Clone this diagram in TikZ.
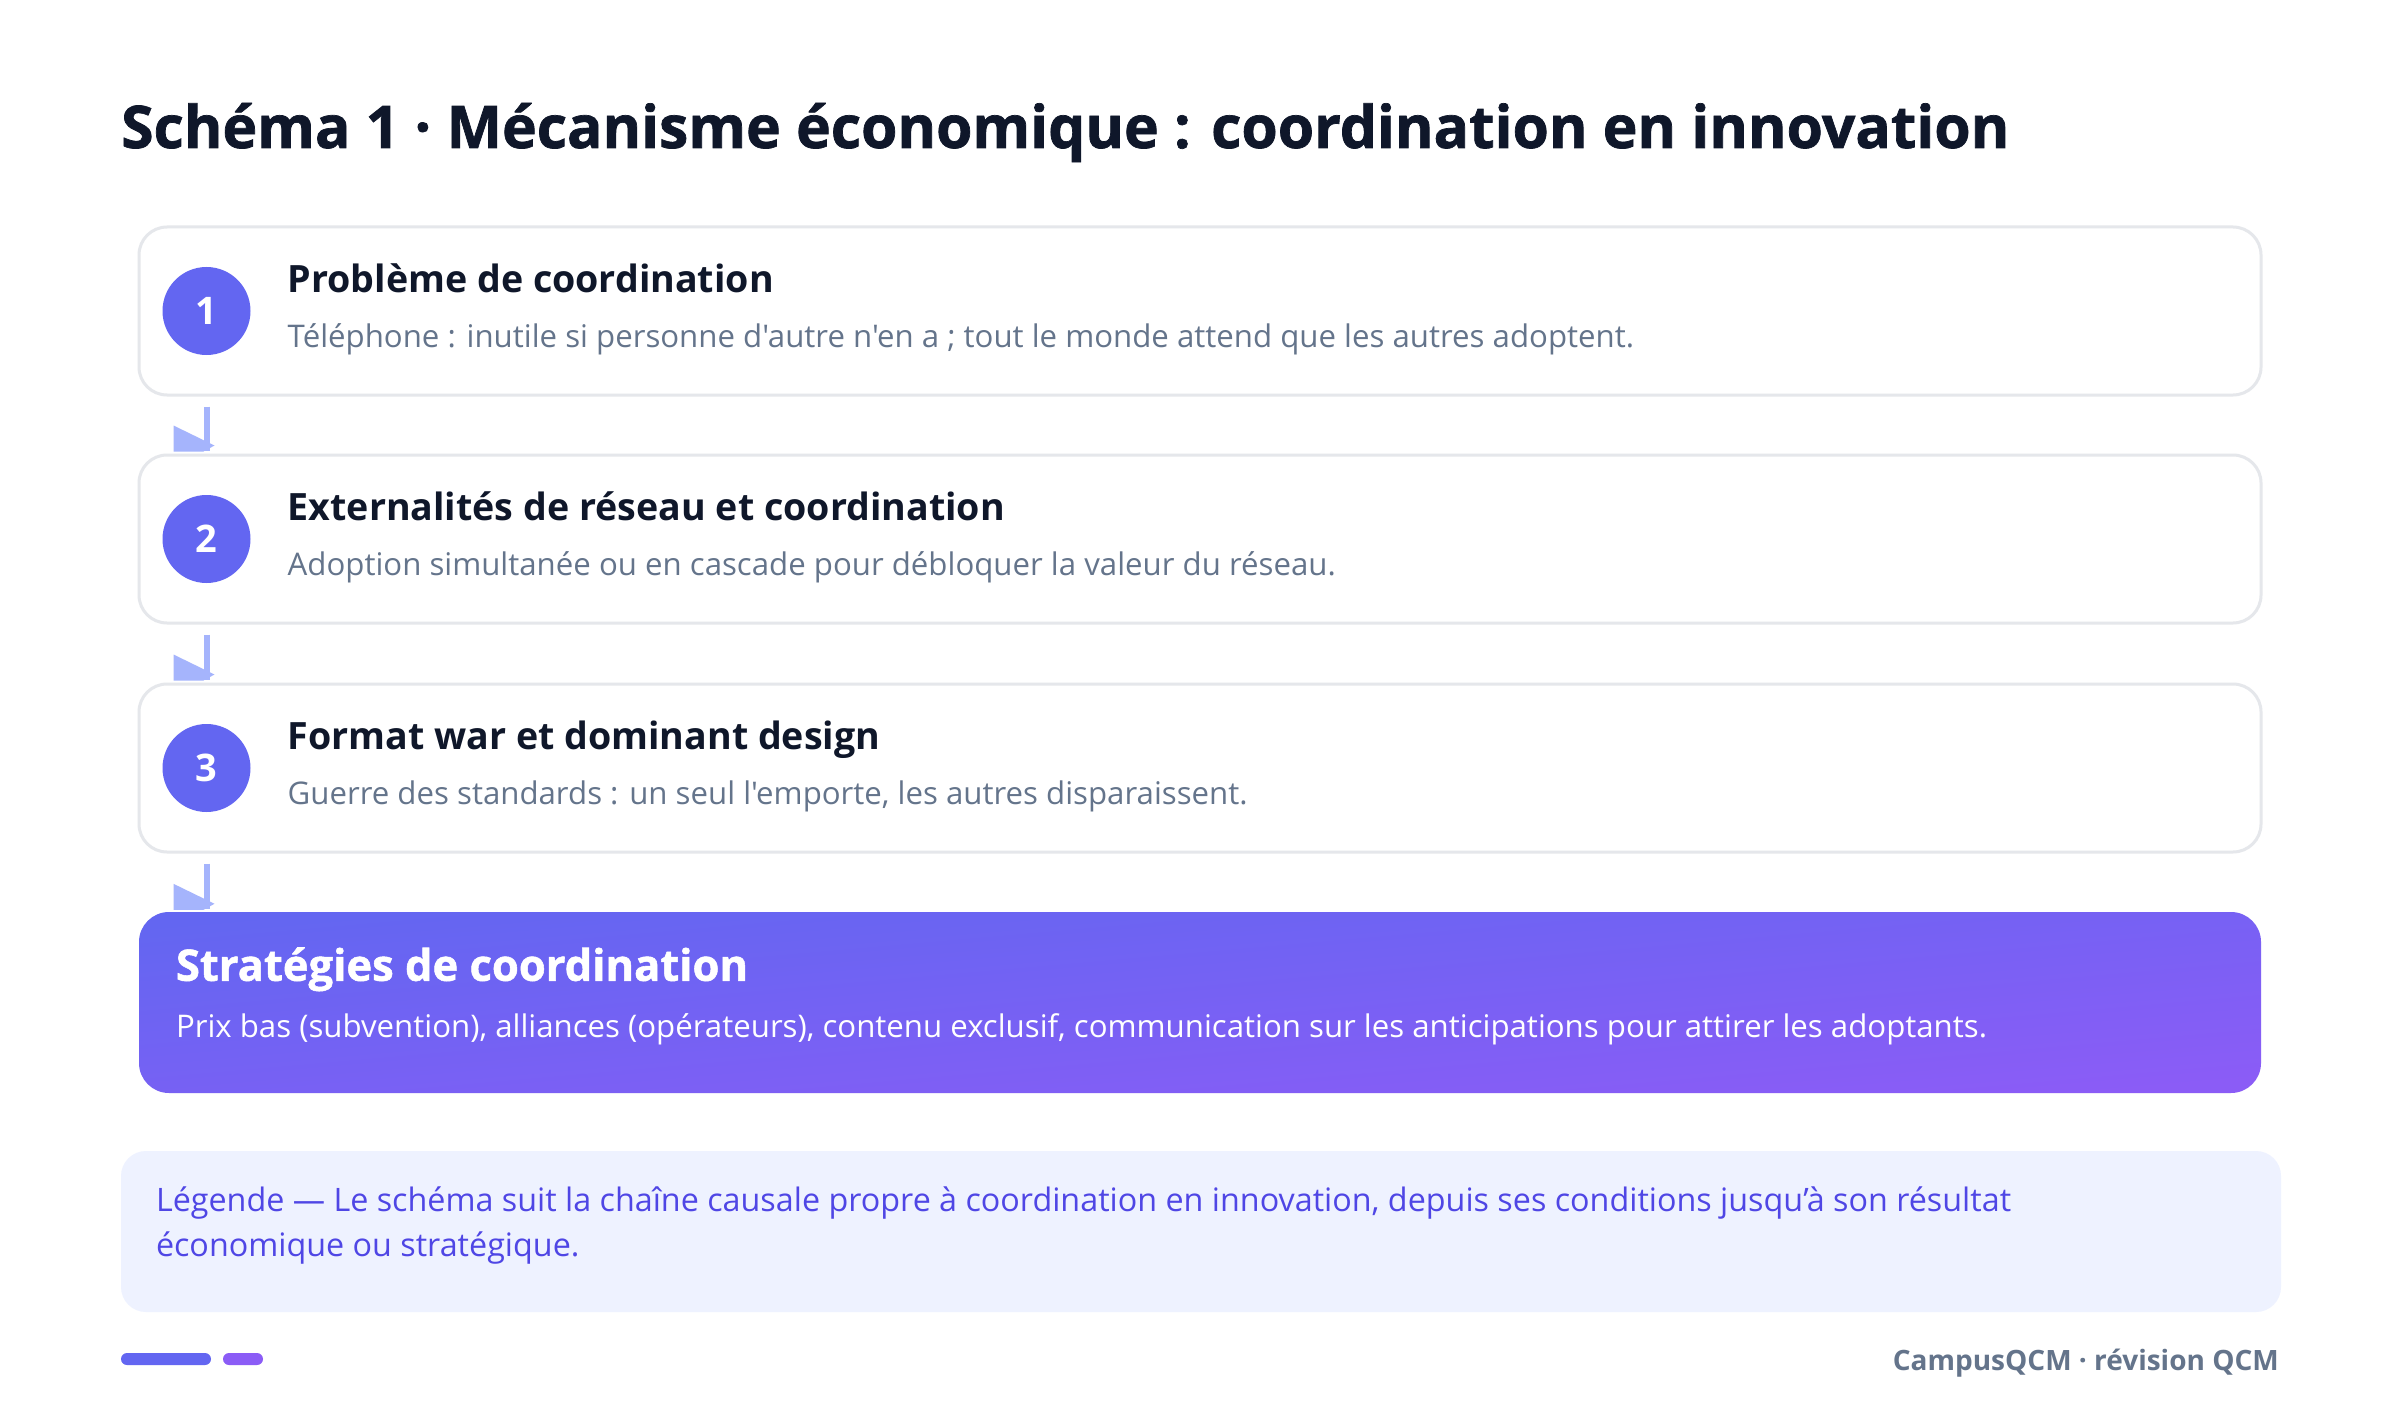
\documentclass[tikz,border=0pt]{standalone}
\usepackage{fontspec}
\newfontfamily\osans{Open Sans}
\newfontfamily\osblack{Open Sans}[FakeBold=1.2]
\usetikzlibrary{calc}
\definecolor{ink}{HTML}{0F172A}
\definecolor{slate}{HTML}{64748B}
\definecolor{cardline}{HTML}{E5E7EB}
\definecolor{indigo}{HTML}{6366F1}
\definecolor{violet}{HTML}{8B5CF6}
\definecolor{arrowc}{HTML}{A5B4FC}
\definecolor{legbg}{HTML}{EEF2FF}
\definecolor{legink}{HTML}{4F46E5}
\begin{document}
\begin{tikzpicture}[x=1pt,y=-1pt, font=\osans,
  card/.style={draw=cardline, line width=3pt, fill=white, rounded corners=28pt,
    minimum width=2122pt, minimum height=168pt, inner sep=0pt},
  num/.style={circle, fill=indigo, minimum size=88pt, inner sep=0pt, text=white,
    font=\osans\fontsize{38}{38}\selectfont\bfseries},
  head/.style={anchor=base west, text=ink, inner sep=0pt,
    font=\osans\fontsize{37.6}{44}\selectfont\bfseries},
  subt/.style={anchor=base west, text=slate, inner sep=0pt,
    font=\osans\fontsize{31.2}{36}\selectfont},
  conn/.style={draw=arrowc, line width=6pt},
  tipc/.style={fill=arrowc}]
\useasboundingbox[fill=white] (0,0) rectangle (2400,1420);

% title
\node[anchor=base west, inner sep=0pt, text=ink, font=\osblack\fontsize{58.8}{64}\selectfont\bfseries]
  (title) at (121,148) {Schéma 1 · Mécanisme économique : coordination en innovation};

% cards
\node[card] (b1) at (1200,311) {};
\node[card] (b2) at (1200,539) {};
\node[card] (b3) at (1200,768) {};
\node[rounded corners=30pt, top color=indigo, bottom color=violet, shading angle=5,
  minimum width=2122pt, minimum height=181pt, inner sep=0pt] (b4) at (1200,1002.5) {};

% numbers
\node[num] (n1) at ($(b1.west)+(69,0)$) {1};
\node[num] (n2) at ($(b2.west)+(69,0)$) {2};
\node[num] (n3) at ($(b3.west)+(69,0)$) {3};

% texts
\node[head] (h1) at ($(b1.north west)+(150,67)$) {Problème de coordination};
\node[subt] (s1) at ($(b1.north west)+(150,122)$) {Téléphone : inutile si personne d'autre n'en a ; tout le monde attend que les autres adoptent.};
\node[head] (h2) at ($(b2.north west)+(150,67)$) {Externalités de réseau et coordination};
\node[subt] (s2) at ($(b2.north west)+(150,122)$) {Adoption simultanée ou en cascade pour débloquer la valeur du réseau.};
\node[head] (h3) at ($(b3.north west)+(150,67)$) {Format war et dominant design};
\node[subt] (s3) at ($(b3.north west)+(150,122)$) {Guerre des standards : un seul l'emporte, les autres disparaissent.};
\node[head, text=white, font=\osblack\fontsize{43.5}{50}\selectfont\bfseries] (h4) at ($(b4.north west)+(37,69)$) {Stratégies de coordination};
\node[subt, text=white] (s4) at ($(b4.north west)+(37,126)$) {Prix bas (subvention), alliances (opérateurs), contenu exclusif, communication sur les anticipations pour attirer les adoptants.};

% connectors
\foreach \a/\b in {b1/b2, b2/b3, b3/b4}{
  \draw[conn] ($(n1 |- \a.south)+(0,10)$) -- ($(n1 |- \b.north)+(0,-3)$);
  \fill[tipc] ($(n1 |- \b.north)+(-33,-28)$) -- ++(41,20) -- ++(-11,6) -- ++(-30,0) -- cycle;
}

% legend
\node[fill=legbg, rounded corners=25pt, minimum width=2160pt, minimum height=161pt, inner sep=0pt] (leg) at (1201,1231.5) {};
\node[anchor=base west, inner sep=0pt, text=legink, font=\osans\fontsize{32.3}{38}\selectfont] (l1) at ($(leg.north west)+(35,61)$) {Légende — Le schéma suit la chaîne causale propre à coordination en innovation, depuis ses conditions jusqu’à son résultat};
\node[anchor=base west, inner sep=0pt, text=legink, font=\osans\fontsize{32.3}{38}\selectfont] (l2) at ($(leg.north west)+(35,106)$) {économique ou stratégique.};

% footer
\fill[indigo, rounded corners=6pt] (121,1353) rectangle (211,1365);
\fill[violet, rounded corners=6pt] (223,1353) rectangle (263,1365);
\node[anchor=base east, inner sep=0pt, text=slate, font=\osans\fontsize{28}{32}\selectfont\bfseries] (foot) at (2279,1370) {CampusQCM · révision QCM};
\end{tikzpicture}
\end{document}
